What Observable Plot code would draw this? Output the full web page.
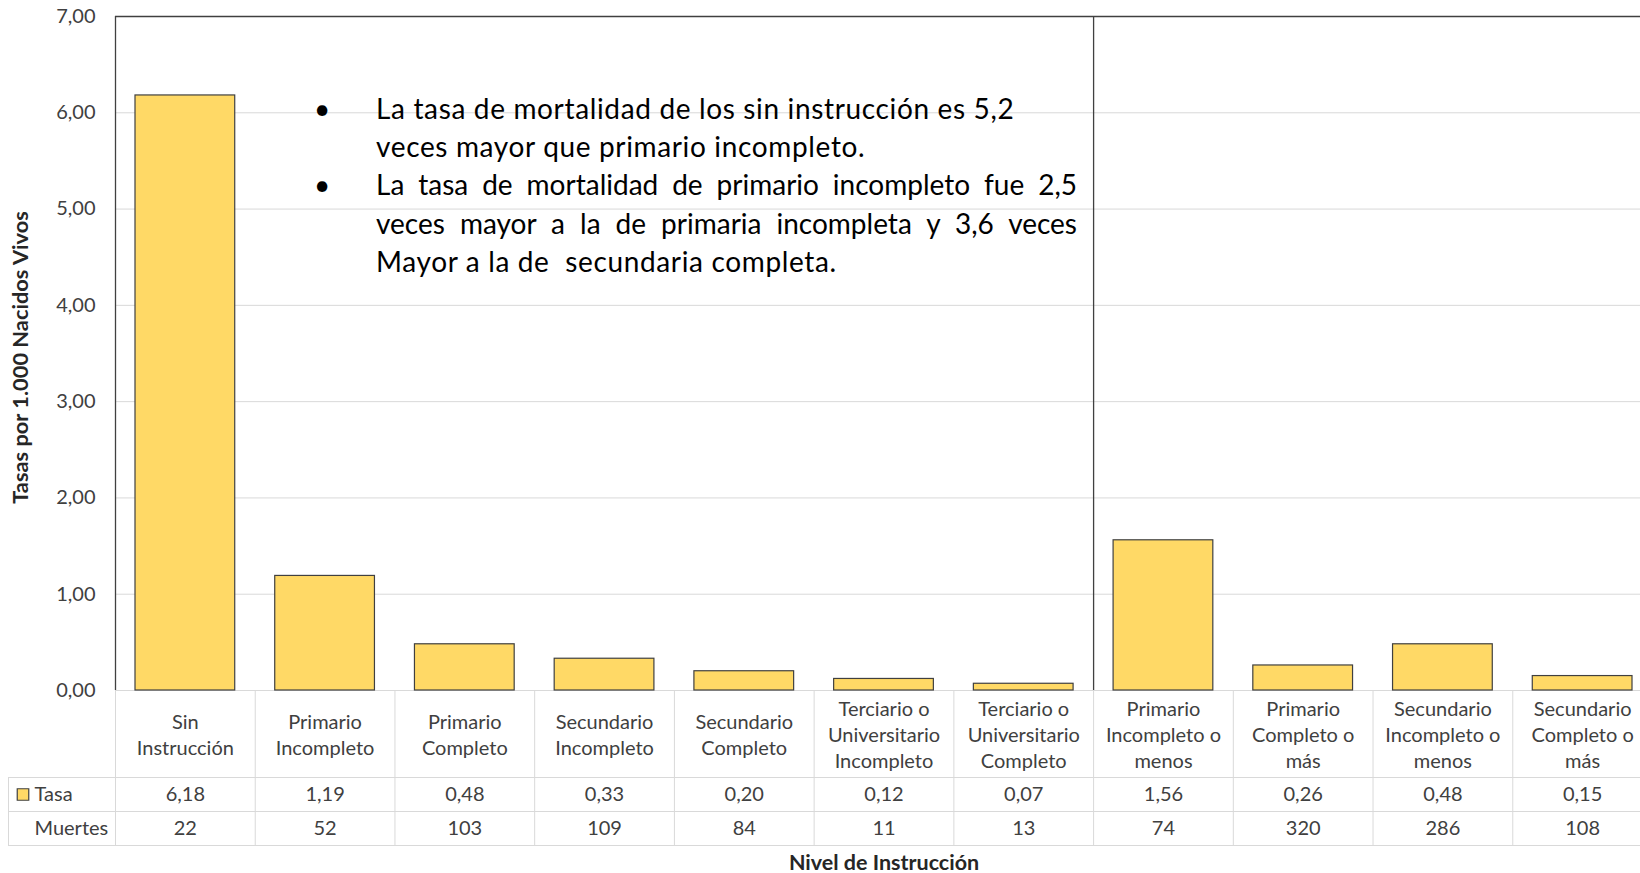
<!DOCTYPE html>
<html><head><meta charset="utf-8">
<script src="https://cdn.jsdelivr.net/npm/d3@7"></script>
<script src="https://cdn.jsdelivr.net/npm/@observablehq/plot@0.6"></script>
<style>
html,body{margin:0;padding:0;background:#fff;overflow:hidden}
#wrap{position:relative;width:1640px;height:873px;font-family:Lato,sans-serif}
#wrap svg{position:absolute;left:0;max-width:none}
#notes{position:absolute;left:376px;top:88.5px;width:701px;font-size:28px;letter-spacing:0.65px;line-height:38.4px;color:#000;font-family:Lato,sans-serif}
#notes div{position:relative;white-space:pre}
#notes div.j{white-space:normal;text-align:justify;text-align-last:justify;letter-spacing:0}
#notes span.b{position:absolute;left:-62px;width:16px;text-align:center}
</style></head>
<body><div id="wrap"></div>
<script>
const categories = ["Sin\nInstrucción","Primario\nIncompleto","Primario\nCompleto","Secundario\nIncompleto","Secundario\nCompleto","Terciario o\nUniversitario\nIncompleto","Terciario o\nUniversitario\nCompleto","Primario\nIncompleto o\nmenos","Primario\nCompleto o\nmás","Secundario\nIncompleto o\nmenos","Secundario\nCompleto o\nmás"];
const tasa = [6.18,1.19,0.48,0.33,0.20,0.12,0.07,1.56,0.26,0.48,0.15];
const muertes = [22,52,103,109,84,11,13,74,320,286,108];
const yTicks = [0,1,2,3,4,5,6,7];
const gridTicks = [1,2,3,4,5,6];
const rowLabels = ["Tasa","Muertes"];
const yTitle = "Tasas por 1.000 Nacidos Vivos";
const xTitle = "Nivel de Instrucción";
const noteLines = [
  {text:"La tasa de mortalidad de los sin instrucción es 5,2", bullet:true, justify:false},
  {text:"veces mayor que primario incompleto.", bullet:false, justify:false},
  {text:"La tasa de mortalidad de primario incompleto fue 2,5", bullet:true, justify:true},
  {text:"veces mayor a la de primaria incompleta y 3,6 veces", bullet:false, justify:true},
  {text:"Mayor a la de  secundaria completa.", bullet:false, justify:false}
];

const data = categories.map((c,i)=>({cat:c, tasa:tasa[i], muertes:muertes[i]}));
const fmt = v => v.toFixed(2).replace(".", ",");
const X0 = 115, X1 = 1652, step = (X1 - X0) / categories.length;
const txt = "#404040", gridC = "#d9d9d9", dark = "#404040";
const xOpts = {type:"band", domain:categories, range:[X0,X1], padding:0, round:false, axis:null};

const chart = Plot.plot({
  width:1640, height:700, marginTop:16, marginBottom:10, marginLeft:115, marginRight:0,
  style:{background:"transparent", fontFamily:"Lato,sans-serif", overflow:"visible"},
  x:xOpts,
  y:{domain:[0,7], axis:null},
  marks:[
    Plot.ruleY(gridTicks, {stroke:gridC, strokeOpacity:1}),
    Plot.ruleY([0], {stroke:gridC, strokeOpacity:1}),
    Plot.ruleY([7], {stroke:dark, strokeWidth:1.3}),
    Plot.ruleX([categories[0], categories[7]], {dx:-step/2, y1:0, y2:7, stroke:dark, strokeWidth:1.3}),
    Plot.barY(data, {x:"cat", y:"tasa", fill:"#FFD966", stroke:dark, strokeWidth:1.2, insetLeft:20, insetRight:20}),
    Plot.text(yTicks, {y:d=>d, text:fmt, frameAnchor:"left", textAnchor:"end", dx:-20, fontSize:20, fill:txt}),
    Plot.text([yTitle], {frameAnchor:"left", textAnchor:"middle", dx:-94, dy:4, rotate:-90, fontWeight:"bold", fontSize:21.8, fill:"#262626"})
  ]
});

const table = Plot.plot({
  width:1640, height:183, marginTop:0, marginBottom:28, marginLeft:8, marginRight:0,
  style:{background:"transparent", fontFamily:"Lato,sans-serif", overflow:"visible"},
  x:xOpts,
  y:{type:"identity", axis:null},
  marks:[
    Plot.ruleY([87,121,155], {stroke:gridC, strokeOpacity:1}),
    Plot.ruleX(categories, {dx:-step/2, stroke:gridC, strokeOpacity:1}),
    Plot.ruleX([categories[0]], {dx:-step/2-107, y1:87, y2:155, stroke:gridC, strokeOpacity:1}),
    Plot.text(data, {x:"cat", y:43.5, text:"cat", fontSize:20, lineHeight:1.3, fill:txt}),
    Plot.text(data, {x:"cat", y:104, text:d=>fmt(d.tasa), fontSize:20, fill:txt}),
    Plot.text(data, {x:"cat", y:138, text:d=>String(d.muertes), fontSize:20, fill:txt}),
    Plot.dot([rowLabels[0]], {frameAnchor:"left", dx:14.5, y:104, symbol:"square", r:6.5, fill:"#FFD966", stroke:dark, strokeWidth:1.2}),
    Plot.text(rowLabels, {frameAnchor:"left", dx:26, y:(d,i)=> i ? 138 : 104, text:d=>d, textAnchor:"start", fontSize:20, fill:txt}),
    Plot.text([xTitle], {frameAnchor:"bottom", textAnchor:"middle", dx:59.5, dy:24, fontWeight:"bold", fontSize:21.5, fill:"#262626"})
  ]
});

const wrap = document.getElementById("wrap");
chart.style.top = "0px";
table.style.top = "690px";
wrap.appendChild(chart);
wrap.appendChild(table);

const notes = document.createElement("div");
notes.id = "notes";
for (const l of noteLines) {
  const d = document.createElement("div");
  if (l.justify) d.className = "j";
  if (l.bullet) { const b = document.createElement("span"); b.className = "b"; b.textContent = "•"; d.appendChild(b); }
  d.appendChild(document.createTextNode(l.text));
  notes.appendChild(d);
}
wrap.appendChild(notes);
</script></body></html>
